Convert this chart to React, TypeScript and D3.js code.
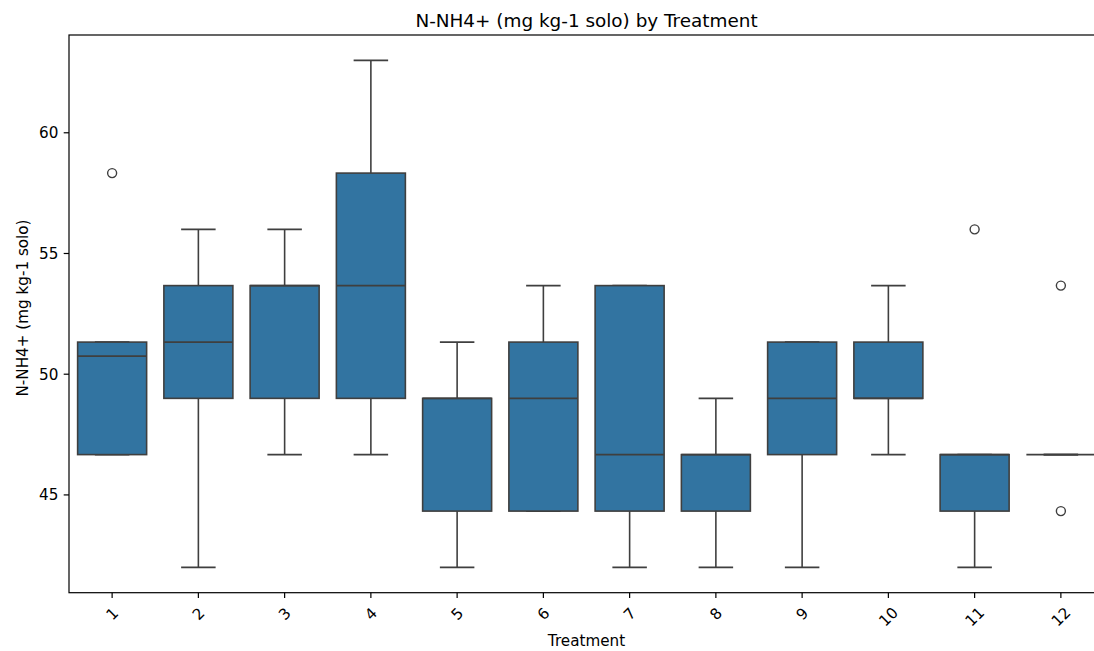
import React, { useEffect, useRef } from 'react';
import * as d3 from 'd3';

// box statistics, one entry per treatment
const treatments = ['1', '2', '3', '4', '5', '6', '7', '8', '9', '10', '11', '12'];
const q1 = [46.67, 49, 49, 49, 44.33, 44.33, 44.33, 44.33, 46.67, 49, 44.33, 46.67];
const medians = [50.75, 51.33, 53.67, 53.67, 49, 49, 46.67, 46.67, 49, 49, 46.67, 46.67];
const q3 = [51.33, 53.67, 53.67, 58.33, 49, 51.33, 53.67, 46.67, 51.33, 51.33, 46.67, 46.67];
const whiskerLow = [46.67, 42, 46.67, 46.67, 42, 44.33, 42, 42, 42, 46.67, 42, 46.67];
const whiskerHigh = [51.33, 56, 56, 63, 51.33, 53.67, 53.67, 49, 51.33, 53.67, 46.67, 46.67];
const outliers = [[58.33], [], [], [], [], [], [], [], [], [], [56], [53.67, 44.33]];
const yTicks = [45, 50, 55, 60];

const W = 1094;
const H = 651;

const BoxPlot = () => {
    const svgRef = useRef<SVGSVGElement>(null);

    useEffect(() => {
        const svg = d3.select(svgRef.current);
        svg.selectAll('*').remove();

        const margin = { top: 35, left: 69, right: 1104, bottom: 592.7 };
        const font = '"DejaVu Sans", sans-serif';
        const lineColor = '#3f3f3f';
        const tickSize = '15.2px';

        const x = d3.scaleBand().domain(treatments).range([margin.left, margin.right]);
        const y = d3.scaleLinear().domain([40.95, 64.05]).range([margin.bottom, margin.top]);
        const bw = x.bandwidth() * 0.8;

        const rows = treatments.map((t, i) => ({
            t, q1: q1[i], med: medians[i], q3: q3[i],
            lo: whiskerLow[i], hi: whiskerHigh[i], out: outliers[i]
        }));

        const g = svg.append('g');
        const cx = (d) => x(d.t) + x.bandwidth() / 2;

        // whiskers
        rows.forEach(d => {
            const c = cx(d);
            [[d.lo, d.q1], [d.q3, d.hi]].forEach(([a, b]) => {
                g.append('line')
                    .attr('x1', c).attr('x2', c)
                    .attr('y1', y(a)).attr('y2', y(b))
                    .attr('stroke', lineColor).attr('stroke-width', 1.6);
            });
            [d.lo, d.hi].forEach(v => {
                g.append('line')
                    .attr('x1', c - bw / 4).attr('x2', c + bw / 4)
                    .attr('y1', y(v)).attr('y2', y(v))
                    .attr('stroke', lineColor).attr('stroke-width', 1.6);
            });
        });

        // boxes
        g.selectAll('.box')
            .data(rows)
            .enter()
            .append('rect')
            .attr('x', d => cx(d) - bw / 2)
            .attr('y', d => y(d.q3))
            .attr('width', bw)
            .attr('height', d => y(d.q1) - y(d.q3))
            .attr('fill', '#3274a1')
            .attr('stroke', lineColor)
            .attr('stroke-width', 1.6);

        // medians
        g.selectAll('.median')
            .data(rows)
            .enter()
            .append('line')
            .attr('x1', d => cx(d) - bw / 2)
            .attr('x2', d => cx(d) + bw / 2)
            .attr('y1', d => y(d.med))
            .attr('y2', d => y(d.med))
            .attr('stroke', lineColor)
            .attr('stroke-width', 1.6);

        // fliers
        rows.forEach(d => {
            d.out.forEach(v => {
                g.append('circle')
                    .attr('cx', cx(d)).attr('cy', y(v)).attr('r', 4.5)
                    .attr('fill', 'none')
                    .attr('stroke', lineColor).attr('stroke-width', 1.4);
            });
        });

        // spines
        svg.append('rect')
            .attr('x', margin.left).attr('y', margin.top)
            .attr('width', margin.right - margin.left)
            .attr('height', margin.bottom - margin.top)
            .attr('fill', 'none')
            .attr('stroke', '#000').attr('stroke-width', 1.2);

        // y ticks
        yTicks.forEach(v => {
            svg.append('line')
                .attr('x1', margin.left - 5.3).attr('x2', margin.left)
                .attr('y1', y(v)).attr('y2', y(v))
                .attr('stroke', '#000').attr('stroke-width', 1.2);
            svg.append('text')
                .attr('x', margin.left - 10.6)
                .attr('y', y(v))
                .attr('dy', '0.36em')
                .attr('text-anchor', 'end')
                .style('font-family', font)
                .style('font-size', tickSize)
                .attr('fill', '#000')
                .text(v);
        });

        // x ticks, rotated labels
        treatments.forEach(t => {
            const c = x(t) + x.bandwidth() / 2;
            svg.append('line')
                .attr('x1', c).attr('x2', c)
                .attr('y1', margin.bottom).attr('y2', margin.bottom + 5.3)
                .attr('stroke', '#000').attr('stroke-width', 1.2);
            const ly = margin.bottom + 21 + (t.length - 1) * 3;
            svg.append('text')
                .attr('transform', `translate(${c}, ${ly}) rotate(-45)`)
                .attr('text-anchor', 'middle')
                .attr('dy', '0.35em')
                .style('font-family', font)
                .style('font-size', tickSize)
                .attr('fill', '#000')
                .text(t);
        });

        // labels and title
        svg.append('text')
            .attr('x', (margin.left + margin.right) / 2)
            .attr('y', 646)
            .attr('text-anchor', 'middle')
            .style('font-family', font)
            .style('font-size', tickSize)
            .text('Treatment');

        svg.append('text')
            .attr('transform', `translate(23, 308) rotate(-90)`)
            .attr('text-anchor', 'middle')
            .attr('dy', '0.35em')
            .style('font-family', font)
            .style('font-size', tickSize)
            .text('N-NH4+ (mg kg-1 solo)');

        svg.append('text')
            .attr('x', (margin.left + margin.right) / 2)
            .attr('y', 27)
            .attr('text-anchor', 'middle')
            .style('font-family', font)
            .style('font-size', '18.4px')
            .text('N-NH4+ (mg kg-1 solo) by Treatment');
    }, []);

    return (
        <svg ref={svgRef} width={W} height={H}
            style={{ position: 'absolute', left: 0, top: 0, background: '#fff' }}></svg>
    );
};

export default function App() {
    return <BoxPlot />;
}
